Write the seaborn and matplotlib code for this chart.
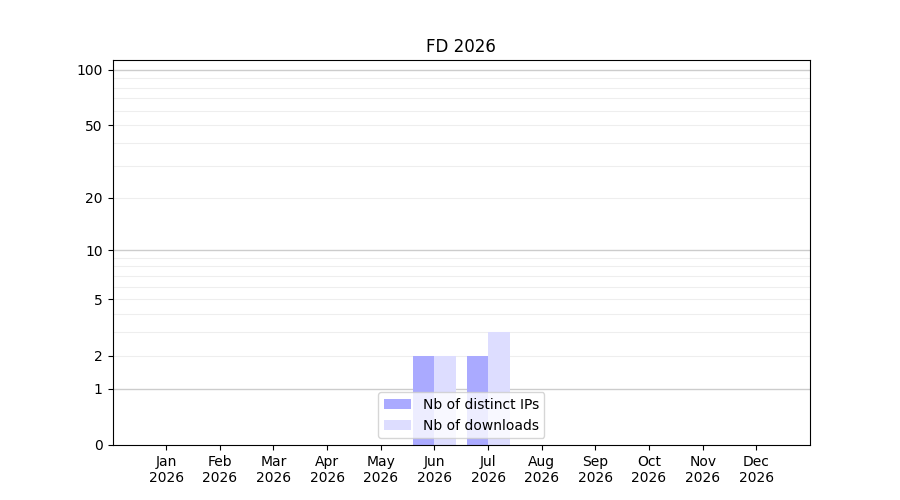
import pandas as pd
import seaborn as sns
import matplotlib.pyplot as plt
import numpy as np

# valeurs mensuelles 2026
months = ['Jan', 'Feb', 'Mar', 'Apr', 'May', 'Jun', 'Jul', 'Aug', 'Sep', 'Oct', 'Nov', 'Dec']
distinct_ips = [0, 0, 0, 0, 0, 2, 2, 0, 0, 0, 0, 0]
downloads = [0, 0, 0, 0, 0, 2, 3, 0, 0, 0, 0, 0]
year = 2026

labels = ['{}\n{}'.format(m, year) for m in months]
df = pd.DataFrame({
    'month': labels * 2,
    'value': distinct_ips + downloads,
    'kind': ['Nb of distinct IPs'] * 12 + ['Nb of downloads'] * 12,
})

fig, ax = plt.subplots(figsize=(9, 5), dpi=100)

sns.barplot(x='month', y='value', hue='kind', data=df, ax=ax,
            palette=['#aaaaff', '#ddddff'], saturation=1, width=0.8,
            edgecolor='none', linewidth=0)

# échelle log(1+x)
ax.set_yscale('function', functions=(lambda v: np.log10(1 + np.clip(v, 0, None)),
                                     lambda v: 10 ** v - 1))
ax.set_ylim(0, 113)
ax.set_xlim(-1, 12)

ax.set_yticks([0, 1, 2, 5, 10, 20, 50, 100])
ax.set_yticklabels(['0', '1', '2', '5', '10', '20', '50', '100'])
minor = list(range(2, 10)) + list(range(20, 100, 10))
ax.set_yticks(minor, minor=True)
ax.tick_params(axis='y', which='minor', length=0)

ax.set_axisbelow(True)
ax.grid(False)
for v in [1, 10, 100]:
    ax.axhline(v, color='#cccccc', linewidth=1, zorder=0)
for v in minor:
    ax.axhline(v, color='#eeeeee', linewidth=0.8, zorder=0)

ax.set_xlabel('')
ax.set_ylabel('')
ax.set_title('FD {}'.format(year))
ax.legend(loc='lower center', title=None)

plt.savefig('out.png', dpi=100)
